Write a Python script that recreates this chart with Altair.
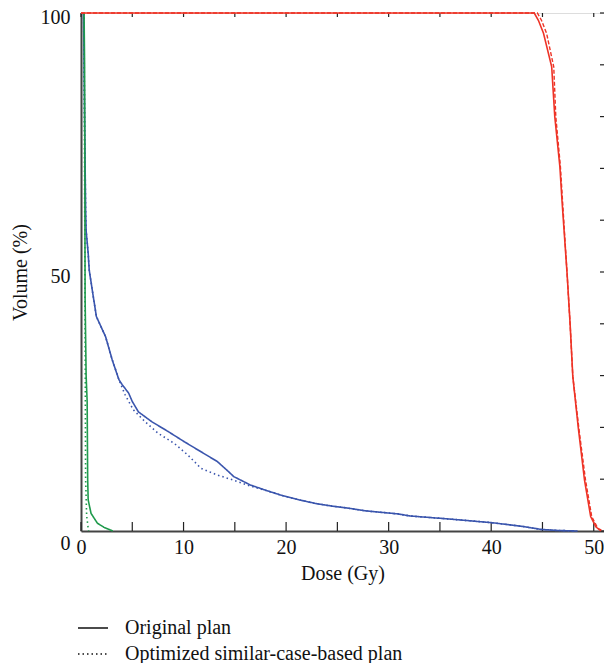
import altair as alt
import pandas as pd

# ---- data ----
plans = ["Original plan", "Optimized similar-case-based plan"]

red_orig_dose = [0, 44.2, 44.6, 45.1, 45.9, 46.2, 46.7, 46.9, 47.4, 47.7, 47.96, 48.5, 49.1, 49.7, 50.2, 50.7]
red_orig_vol = [100, 100, 98.6, 96.1, 89.6, 80, 70.3, 63.9, 49.7, 39.8, 29.8, 19.8, 9.8, 2.8, 0.8, 0]
red_opt_dose = [0, 44.5, 44.9, 45.4, 46.1, 46.3, 46.75, 46.95, 47.4, 47.7, 47.96, 48.55, 49.2, 49.8, 50.4, 50.9]
red_opt_vol = [100, 100, 98.6, 96.1, 89.6, 80, 70.3, 63.9, 49.7, 39.8, 29.8, 19.8, 9.8, 2.8, 0.5, 0]

blue_orig_dose = [0.25, 0.35, 0.45, 0.5, 0.7, 0.8, 1.1, 1.5, 2.4, 3.05, 3.7, 4.0, 4.65, 5.0, 5.6, 6.9, 8.5,
                  10.1, 11.7, 13.3, 14.2, 14.9, 16.5, 18.1, 19.7, 21.3, 22.9, 24.5, 26.1, 27.7, 29.3,
                  30.9, 32.1, 36.0, 40.1, 43.0, 44.9, 46.5, 48.4]
blue_orig_vol = [100, 80, 62, 58, 53.6, 50.4, 46.5, 41.4, 37.5, 33, 29.2, 28.3, 26.6, 25, 23.0, 21.1, 19.2,
                 17.2, 15.3, 13.4, 11.8, 10.5, 8.9, 7.8, 6.8, 6.0, 5.3, 4.8, 4.4, 3.9, 3.6,
                 3.3, 2.9, 2.3, 1.6, 0.9, 0.3, 0.1, 0]
blue_opt_dose = [0.25, 0.35, 0.45, 0.5, 0.7, 0.8, 1.1, 1.5, 2.4, 3.05, 3.7, 4.3, 5.1, 6.25, 7.5, 9.1,
                 10.4, 11.7, 13.3, 14.9, 16.5, 18.1, 19.7, 21.3, 22.9, 24.5, 26.1, 27.7, 29.3,
                 30.9, 32.1, 36.0, 40.1, 43.0, 44.9, 46.5, 48.4]
blue_opt_vol = [100, 80, 62, 58, 53.6, 50.4, 46.5, 41.4, 37.5, 33, 29.2, 26.3, 23.4, 21.1, 18.9, 16.9,
                14.7, 12.1, 10.8, 9.8, 8.7, 7.8, 6.8, 6.0, 5.3, 4.8, 4.4, 3.9, 3.6,
                3.3, 2.9, 2.3, 1.6, 0.9, 0.3, 0.1, 0]

green_orig_dose = [0.3, 0.35, 0.4, 0.5, 0.6, 0.65, 0.7, 0.98, 1.6, 2.25, 3.1]
green_orig_vol = [100, 90, 45, 30, 25, 10, 6, 3.4, 1.5, 0.7, 0]
green_opt_dose = [0.3, 0.4, 0.45, 0.55, 0.7, 0.75]
green_opt_vol = [100, 40, 10, 3, 0.5, 0]

x_tick_values = [0, 5, 10, 15, 20, 25, 30, 35, 40, 45, 50]
y_tick_values = [0, 10, 20, 30, 40, 50, 60, 70, 80, 90, 100]
x_label_values = [0, 10, 20, 30, 40, 50]
y_label_values = [0, 50, 100]

RED, BLUE, GREEN = "#ee3326", "#3a55ad", "#1f9a4c"
FONT = "Liberation Serif"
FS = 20
W, H = 523, 518


def frame(organ, plan, dose, vol):
    return pd.DataFrame({"organ": organ, "plan": plan, "dose": dose, "volume": vol,
                         "order": list(range(len(dose)))})


bg = pd.concat([
    frame("blue", plans[0], blue_orig_dose, blue_orig_vol),
    frame("blue", plans[1], blue_opt_dose, blue_opt_vol),
    frame("green", plans[0], green_orig_dose, green_orig_vol),
    frame("green", plans[1], green_opt_dose, green_opt_vol),
])
red_o = frame("red", plans[0], red_orig_dose, red_orig_vol)
red_p = frame("red", plans[1], red_opt_dose, red_opt_vol)

xs = alt.Scale(domain=[0, 51.0], nice=False, zero=False)
ys = alt.Scale(domain=[0, 100], nice=False)

xaxis = alt.Axis(values=x_label_values, tickSize=0, grid=False, title="Dose (Gy)",
                 labelFont=FONT, labelFontSize=FS, labelColor="#111", labelPadding=6,
                 titleFont=FONT, titleFontSize=FS, titleFontWeight="normal", titleColor="#111",
                 titlePadding=6, domainColor="#444", domainWidth=2, labelFlush=False)
yaxis = alt.Axis(values=y_label_values, tickSize=0, grid=False, title="Volume (%)",
                 labelFont=FONT, labelFontSize=FS, labelColor="#111", labelPadding=11,
                 labelOffset={"condition": {"test": "datum.value === 0", "value": 12},
                              "value": 4},
                 titleFont=FONT, titleFontSize=FS, titleFontWeight="normal", titleColor="#111",
                 titlePadding=10, domainColor="#444", domainWidth=2, labelFlush=False)

lines = alt.Chart(bg).mark_line(strokeWidth=1.6).encode(
    x=alt.X("dose:Q", scale=xs, axis=xaxis),
    y=alt.Y("volume:Q", scale=ys, axis=yaxis),
    color=alt.Color("organ:N", scale=alt.Scale(domain=["blue", "green"], range=[BLUE, GREEN]), legend=None),
    strokeDash=alt.StrokeDash("plan:N", scale=alt.Scale(domain=plans, range=[[1, 0], [1.5, 3]]),
                              legend=alt.Legend(title=None, orient="none", legendX=-4, legendY=599,
                                                direction="vertical", symbolType="stroke",
                                                symbolStrokeColor="#111", symbolStrokeWidth=1.3,
                                                symbolSize=900, labelFont=FONT, labelFontSize=FS,
                                                labelColor="#111", labelOffset=16, rowPadding=0,
                                                labelLimit=500)),
    detail="plan:N",
    order="order:Q",
)

red2 = alt.Chart(red_p).mark_line(strokeWidth=1.4, color=RED, strokeDash=[4, 2]).encode(
    x=alt.X("dose:Q", scale=xs), y=alt.Y("volume:Q", scale=ys), order="order:Q")
red1 = alt.Chart(red_o).mark_line(strokeWidth=1.6, color=RED).encode(
    x=alt.X("dose:Q", scale=xs), y=alt.Y("volume:Q", scale=ys), order="order:Q")

xt = pd.DataFrame({"t": x_tick_values})
yt = pd.DataFrame({"t": y_tick_values})
bottom_ticks = alt.Chart(xt).mark_rule(color="#222", strokeWidth=1.2).encode(
    x=alt.X("t:Q", scale=xs), y=alt.value(H), y2=alt.value(H - 9))
top_ticks = alt.Chart(xt).mark_rule(color="#222", strokeWidth=1.2).encode(
    x=alt.X("t:Q", scale=xs), y=alt.value(0), y2=alt.value(4))
right_ticks = alt.Chart(yt).mark_rule(color="#222", strokeWidth=1.2).encode(
    y=alt.Y("t:Q", scale=ys), x=alt.value(W), x2=alt.value(W - 4))

chart = alt.layer(bottom_ticks, top_ticks, right_ticks, lines, red2, red1).properties(
    width=W, height=H,
    autosize=alt.AutoSizeParams(type="none"),
    padding={"left": 73, "top": 5, "right": 0, "bottom": 132},
).configure_view(stroke="#111", strokeWidth=1).configure(background="white")

chart.save("out.html", embed_options={"renderer": "svg", "actions": False})
